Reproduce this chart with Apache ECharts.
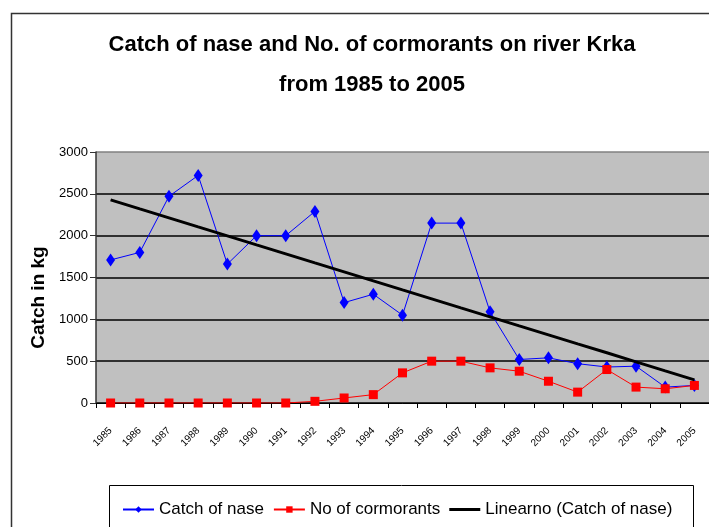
<!DOCTYPE html>
<html>
<head>
<meta charset="utf-8">
<script src="https://cdn.jsdelivr.net/npm/echarts@6/dist/echarts.min.js"></script>
<style>
html,body{margin:0;padding:0;background:#fff;}
#c{width:709px;height:527px;}
</style>
</head>
<body>
<div id="c"></div>
<script>
const years = ['1985','1986','1987','1988','1989','1990','1991','1992','1993','1994','1995','1996','1997','1998','1999','2000','2001','2002','2003','2004','2005'];
const catchOfNase = [1710,1800,2470,2720,1660,2000,2000,2290,1200,1300,1050,2150,2150,1090,520,540,470,430,440,190,210];
const cormorants = [0,0,0,0,0,0,0,20,60,100,360,500,500,420,380,260,130,400,190,170,210];
const trendLine = [2428,2320,2213,2105,1998,1890,1783,1675,1568,1460,1352,1245,1137,1030,922,815,707,600,492,384,277];
const yTicks = [0,500,1000,1500,2000,2500,3000];

const FONT = '"Liberation Sans Narrow","Arial Narrow","Liberation Sans",Arial,sans-serif';
const chart = echarts.init(document.getElementById('c'));
chart.setOption({
  animation: false,
  backgroundColor: '#fff',
  textStyle: {fontFamily: FONT},
  title: {
    text: 'Catch of nase and No. of cormorants on river Krka\nfrom 1985 to 2005',
    left: 367, top: 20, textAlign: 'center',
    textStyle: {fontFamily: FONT, fontSize: 22, fontWeight: 'bold', color: '#000', lineHeight: 40}
  },
  graphic: [
    {type: 'rect', shape: {x: 11.5, y: 13.5, width: 720, height: 540}, style: {fill: null, stroke: '#333', lineWidth: 1.5}, z: 100},
    {type: 'rect', shape: {x: 109.5, y: 485.5, width: 584, height: 60}, style: {fill: null, stroke: '#000', lineWidth: 1}, z: 100}
  ],
  legend: {
    left: 117, top: 496, width: 590,
    itemWidth: 31, itemHeight: 8, itemGap: 9,
    textStyle: {fontFamily: FONT, fontSize: 17, color: '#000'},
    data: [
      {name: 'Catch of nase'},
      {name: 'No of cormorants'},
      {name: 'Linearno (Catch of nase)', icon: 'path://M0,0h31v3h-31z'}
    ]
  },
  grid: {left: 96, right: -2, top: 152, bottom: 124, show: true, backgroundColor: '#C0C0C0', borderWidth: 0},
  xAxis: {
    type: 'category', data: years, boundaryGap: true,
    axisLine: {lineStyle: {color: '#000', width: 1}},
    axisTick: {show: true, inside: false, length: 5, lineStyle: {color: '#000'}},
    axisLabel: {rotate: 45, margin: 26, fontSize: 10, color: '#000', fontFamily: FONT, interval: 0}
  },
  yAxis: {
    type: 'value', min: 0, max: 3000, interval: 500,
    name: 'Catch in kg', nameLocation: 'middle', nameRotate: 90, nameGap: 40,
    nameTextStyle: {fontFamily: FONT, fontSize: 19, fontWeight: 'bold', color: '#000', padding: [0, 40, 0, 0]},
    axisLine: {show: true, lineStyle: {color: '#333', width: 1.5}},
    axisTick: {show: true, inside: false, length: 6, lineStyle: {color: '#333'}},
    axisLabel: {fontSize: 13, color: '#000', margin: 8, fontFamily: FONT, formatter: function (v) { return String(v); }},
    splitLine: {show: true, lineStyle: {color: ['#000','#000','#000','#000','#000','#000','#808080'], width: 1.5}}
  },
  series: [
    {
      name: 'Catch of nase', type: 'line', data: catchOfNase,
      color: '#0000FF', lineStyle: {color: '#0000FF', width: 1},
      symbol: 'diamond', symbolSize: [9, 13], itemStyle: {color: '#0000FF'}, z: 3
    },
    {
      name: 'No of cormorants', type: 'line', data: cormorants,
      color: '#FF0000', lineStyle: {color: '#FF0000', width: 1},
      symbol: 'rect', symbolSize: 9, itemStyle: {color: '#FF0000'}, z: 4
    },
    {
      name: 'Linearno (Catch of nase)', type: 'line', data: trendLine,
      color: '#000', lineStyle: {color: '#000', width: 3},
      symbol: 'none', z: 5
    }
  ]
});
</script>
</body>
</html>
